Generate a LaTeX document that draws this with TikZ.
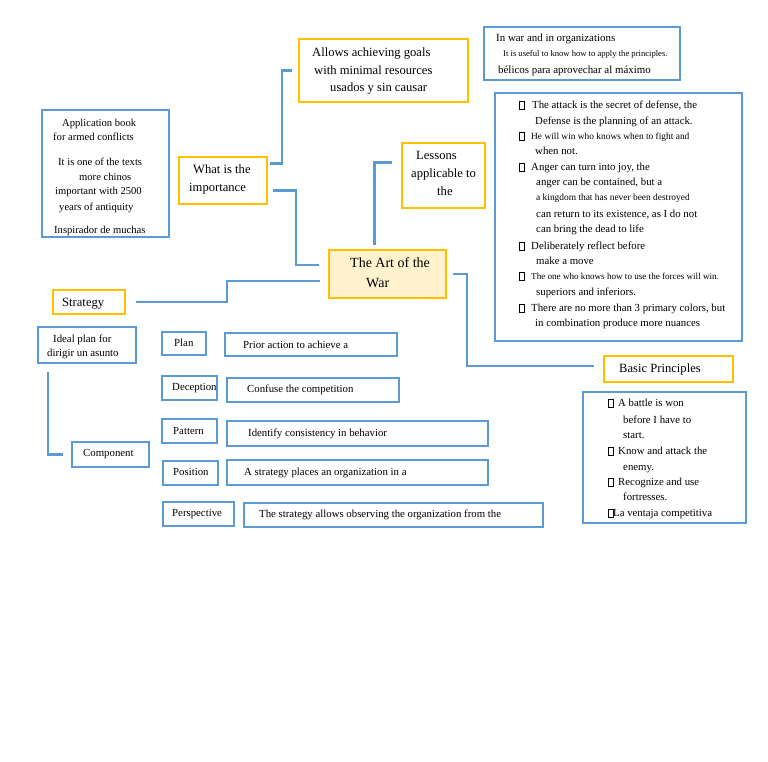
\documentclass[tikz,border=0pt]{standalone}
\usepackage{fontspec}
\setmainfont{Liberation Serif}
\usetikzlibrary{calc}
\definecolor{obl}{HTML}{5B9BD5}
\definecolor{ogd}{HTML}{FFC000}
\definecolor{ofill}{HTML}{FFF2CC}
\newcounter{tn}
\newcommand\sqb{\raisebox{-0.3pt}{\framebox(5,8){}}}
\newcommand\fsz[1]{\fontsize{#1}{#1}\selectfont}
\newcommand\bxn[6]{\node[#6, anchor=north west, minimum width={(#4-#2)*1pt}, minimum height={(#5-#3)*1pt}] (#1) at (#2,#3) {};}
\newcommand\tline[4][]{\stepcounter{tn}\node[txt,#1] (t\arabic{tn}) at (#2,#3) {#4};}
\begin{document}
\begin{tikzpicture}[x=1pt,y=-1pt,
  bb/.style={draw=obl, line width=2.9pt, inner sep=0pt, outer sep=0pt},
  yb/.style={draw=ogd, line width=2.9pt, inner sep=0pt, outer sep=0pt},
  txt/.style={anchor=mid west, inner sep=0pt, yshift=-1.5pt, font=\fsz{10.8}},
  big/.style={font=\fsz{12.6}},
  sml/.style={font=\fsz{9.4}},
  conn/.style={draw=obl, line width=2.8pt}]
\fill[white] (0,0) rectangle (768,762);
\useasboundingbox (0,0) rectangle (768,762);

% boxes
\bxn{app}{42}{110}{169}{237}{bb}
\bxn{imp}{179}{157}{267}{204}{yb}
\bxn{allows}{299}{39}{468}{102}{yb}
\bxn{war}{484}{27}{680}{80}{bb}
\bxn{les}{402}{143}{485}{208}{yb}
\bxn{prin}{495}{93}{742}{341}{bb}
\bxn{art}{329}{250}{446}{298}{yb,fill=ofill}
\bxn{str}{53}{290}{125}{314}{yb}
\bxn{ideal}{38}{327}{136}{363}{bb}
\bxn{plan}{162}{332}{206}{355}{bb}
\bxn{prior}{225}{333}{397}{356}{bb}
\bxn{dec}{162}{376}{217}{400}{bb}
\bxn{conf}{227}{378}{399}{402}{bb}
\bxn{pat}{162}{419}{217}{443}{bb}
\bxn{iden}{227}{421}{488}{446}{bb}
\bxn{comp}{72}{442}{149}{467}{bb}
\bxn{pos}{163}{461}{218}{485}{bb}
\bxn{astr}{227}{460}{488}{485}{bb}
\bxn{persp}{163}{502}{234}{526}{bb}
\bxn{tstr}{244}{503}{543}{527}{bb}
\bxn{basic}{604}{356}{733}{382}{yb}
\bxn{blist}{583}{392}{746}{523}{bb}

% connectors
\draw[conn] ($(imp.east)+(3,-17)$) -| (282,70.5) -- ($(allows.west)+(-7,0)$);
\draw[conn] ($(imp.east)+(6,10)$) -| (296,265) -- ($(art.west)+(-10,-9)$);
\draw[conn] ($(art.north)+(-13,-5)$) |- ($(les.west)+(-10,-13)$);
\draw[conn] ($(art.west)+(-9,7)$) -| (227,302) -- ($(str.east)+(11,0)$);
\draw[conn] ($(art.east)+(7,0)$) -| (467,366) -- ($(basic.west)+(-10,-3)$);
\draw[conn] ($(ideal.south west)+(10,9)$) |- ($(comp.west)+(-9,0)$);

% texts: application box
\tline[font=\fsz{10.6}]{62}{123}{Application book}
\tline[font=\fsz{10.6}]{53}{137}{for armed conflicts}
\tline[font=\fsz{10.6}]{58}{162}{It is one of the texts}
\tline[font=\fsz{10.6}]{79}{177}{more chinos}
\tline[font=\fsz{10.6}]{55}{191}{important with 2500}
\tline[font=\fsz{10.6}]{59}{207}{years of antiquity}
\tline[font=\fsz{10.6}]{54}{230}{Inspirador de muchas}
% importance
\tline[big]{193}{170}{What is the}
\tline[big]{189}{188}{importance}
% allows
\tline[big]{312}{53}{Allows achieving goals}
\tline[big]{314}{71}{with minimal resources}
\tline[big]{330}{88}{usados y sin causar}
% lessons
\tline[big]{416}{156}{Lessons}
\tline[big]{411}{174}{applicable to}
\tline[big]{437}{192}{the}
% war
\tline[font=\fsz{10.9}]{496}{38}{In war and in organizations}
\tline[font=\fsz{8.6}]{503}{53}{It is useful to know how to apply the principles.}
\tline[font=\fsz{10.9}]{498}{70}{bélicos para aprovechar al máximo}
% principles
\tline{519}{105}{\sqb\hspace{8pt}The attack is the secret of defense, the}
\tline{535}{121}{Defense is the planning of an attack.}
\tline[sml]{519}{136}{\sqb\hspace{7pt}He will win who knows when to fight and}
\tline{535}{151}{when not.}
\tline{519}{167}{\sqb\hspace{7pt}Anger can turn into joy, the}
\tline{536}{182}{anger can be contained, but a}
\tline[sml]{536}{197}{a kingdom that has never been destroyed}
\tline{536}{214}{can return to its existence, as I do not}
\tline{536}{229}{can bring the dead to life}
\tline{519}{246}{\sqb\hspace{7pt}Deliberately reflect before}
\tline{536}{261}{make a move}
\tline[font=\fsz{9.1}]{519}{276}{\sqb\hspace{7pt}The one who knows how to use the forces will win.}
\tline{536}{292}{superiors and inferiors.}
\tline{519}{308}{\sqb\hspace{7pt}There are no more than 3 primary colors, but}
\tline{535}{323}{in combination produce more nuances}
% art of war
\tline[font=\fsz{14}]{350}{264}{The Art of the}
\tline[font=\fsz{14}]{366}{284}{War}
% strategy side
\tline[big]{62}{303}{Strategy}
\tline{53}{339}{Ideal plan for}
\tline{47}{353}{dirigir un asunto}
\tline{174}{343}{Plan}
\tline{243}{345}{Prior action to achieve a}
\tline{172}{387}{Deception}
\tline{247}{389}{Confuse the competition}
\tline{173}{431}{Pattern}
\tline{248}{433}{Identify consistency in behavior}
\tline{83}{453}{Component}
\tline{173}{472}{Position}
\tline{244}{472}{A strategy places an organization in a}
\tline{172}{513}{Perspective}
\tline{259}{514}{The strategy allows observing the organization from the}
% basic principles
\tline[big]{619}{369}{Basic Principles}
\tline{608}{403}{\sqb\hspace{5pt}A battle is won}
\tline{623}{420}{before I have to}
\tline{623}{435}{start.}
\tline{608}{451}{\sqb\hspace{5pt}Know and attack the}
\tline{623}{467}{enemy.}
\tline{608}{482}{\sqb\hspace{5pt}Recognize and use}
\tline{623}{497}{fortresses.}
\tline{608}{513}{\sqb La ventaja competitiva}
\end{tikzpicture}
\end{document}
